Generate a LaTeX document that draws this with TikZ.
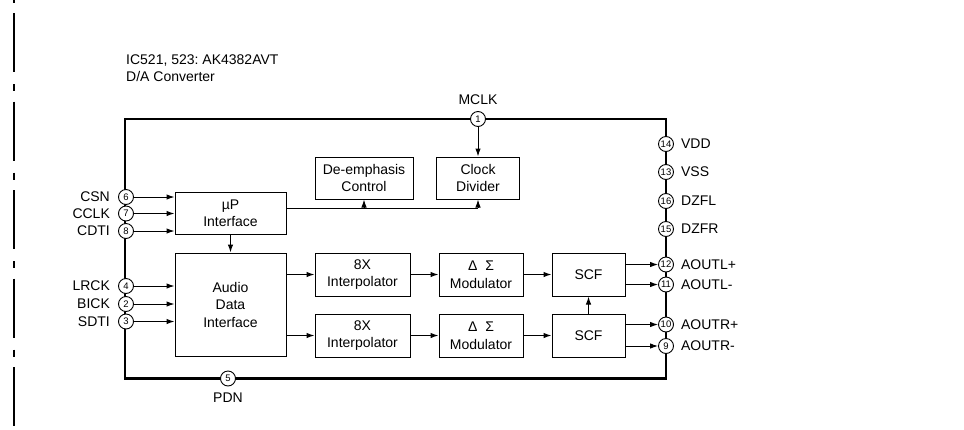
\documentclass[tikz,border=0pt]{standalone}
\usepackage{fontspec}
\setmainfont{Liberation Sans}
\usetikzlibrary{arrows.meta}
\frenchspacing

\tikzset{
  txt/.style={font=\fontsize{14}{17.5}\selectfont, inner sep=0pt},
  blk/.style={txt, draw, line width=1pt, align=center},
  pin/.style={circle, draw, fill=white, line width=0.9pt, minimum size=15pt,
    inner sep=0pt, font=\fontsize{9.5}{9.5}\selectfont},
  sig/.style={line width=1pt, -{Latex[length=8pt,width=5.5pt]}},
}

\begin{document}
\begin{tikzpicture}[x=1pt,y=-1pt]
        \useasboundingbox (0,0) rectangle (964,429);
        % left cut line
        \draw[line width=2.2pt, dash pattern=on 59pt off 12pt on 7pt off 10.5pt, dash phase=75.5pt]
            (14,0) -- (14,429);

        % title
        \node[txt, anchor=west, align=left] (title) at (126,68) {IC521, 523: AK4382AVT\\D/A Converter};

        % package outline
        \draw[line width=2.8pt] (125,119) rectangle (666,378.5);

        % blocks
        \node[blk, minimum width=111pt, minimum height=42pt] (up) at (230.5,213) {µP\\Interface};
        \node[blk, minimum width=111pt, minimum height=103pt] (adi) at (230.5,304.5) {Audio\\Data\\Interface};
        \node[blk, minimum width=98pt, minimum height=42pt] (deemph) at (364,178) {De-emphasis\\Control};
        \node[blk, minimum width=83pt, minimum height=42pt] (clkdiv) at (478,178) {Clock\\Divider};
        \node[blk, minimum width=95pt, minimum height=43pt] (intL) at (362.5,274.5) {8X\\Interpolator};
        \node[blk, minimum width=95pt, minimum height=43pt] (intR) at (362.5,335.5) {8X\\Interpolator};
        \node[blk, minimum width=84pt, minimum height=43pt] (modL) at (481,274.5) {Δ\hspace{8pt}Σ\\Modulator};
        \node[blk, minimum width=84pt, minimum height=43pt] (modR) at (481,335.5) {Δ\hspace{8pt}Σ\\Modulator};
        \node[blk, minimum width=73pt, minimum height=43pt] (scfL) at (588.5,274.5) {SCF};
        \node[blk, minimum width=73pt, minimum height=43pt] (scfR) at (588.5,335.5) {SCF};

        % pins
        \node[pin] (p1) at (478,119) {1};
        \node[pin] (p6) at (126,197) {6};
        \node[pin] (p7) at (126,213.5) {7};
        \node[pin] (p8) at (126,231) {8};
        \node[pin] (p4) at (126,286) {4};
        \node[pin] (p2) at (126,304) {2};
        \node[pin] (p3) at (126,321.5) {3};
        \node[pin] (p5) at (228,378.5) {5};
        \node[pin] (p14) at (666,144) {14};
        \node[pin] (p13) at (666,172) {13};
        \node[pin] (p16) at (666,201) {16};
        \node[pin] (p15) at (666,229) {15};
        \node[pin] (p12) at (666,264.5) {12};
        \node[pin] (p11) at (666,284.5) {11};
        \node[pin] (p10) at (666,324.5) {10};
        \node[pin] (p9) at (666,346) {9};

        % pin names
        \node[txt, above=6pt] at (p1.north) {MCLK};
        \node[txt, below=6pt] at (p5.south) {PDN};
        \foreach \p/\t in {p6/CSN, p7/CCLK, p8/CDTI, p4/LRCK, p2/BICK, p3/SDTI}
            \node[txt, anchor=east] at ([xshift=-8pt]\p.west) {\t};
        \foreach \p/\t in {p14/VDD, p13/VSS, p16/DZFL, p15/DZFR, p12/AOUTL+, p11/AOUTL-, p10/AOUTR+, p9/AOUTR-}
            \node[txt, anchor=west] at ([xshift=7pt]\p.east) {\t};

        % connections
        \foreach \p in {p6,p7,p8}
            \draw[sig] (\p) -- (\p -| up.west);
        \foreach \p in {p4,p2,p3}
            \draw[sig] (\p) -- (\p -| adi.west);
        \draw[sig] (up) -- (adi);
        \draw[sig] (p1) -- (clkdiv);
        \coordinate (bus) at ([yshift=5pt]up.east);
        \draw[line width=1pt] (bus) -- (bus -| clkdiv.south);
        \draw[sig] (bus -| deemph.south) -- (deemph.south);
        \draw[sig] (bus -| clkdiv.south) -- (clkdiv.south);
        \draw[sig] (intL -| adi.east) -- (intL);
        \draw[sig] (intR -| adi.east) -- (intR);
        \draw[sig] (intL) -- (modL);
        \draw[sig] (intR) -- (modR);
        \draw[sig] (modL) -- (scfL);
        \draw[sig] (modR) -- (scfR);
        \draw[sig] (scfR) -- (scfL);
        \draw[sig] (p12 -| scfL.east) -- (p12);
        \draw[sig] (p11 -| scfL.east) -- (p11);
        \draw[sig] (p10 -| scfR.east) -- (p10);
        \draw[sig] (p9 -| scfR.east) -- (p9);
\end{tikzpicture}
\end{document}
